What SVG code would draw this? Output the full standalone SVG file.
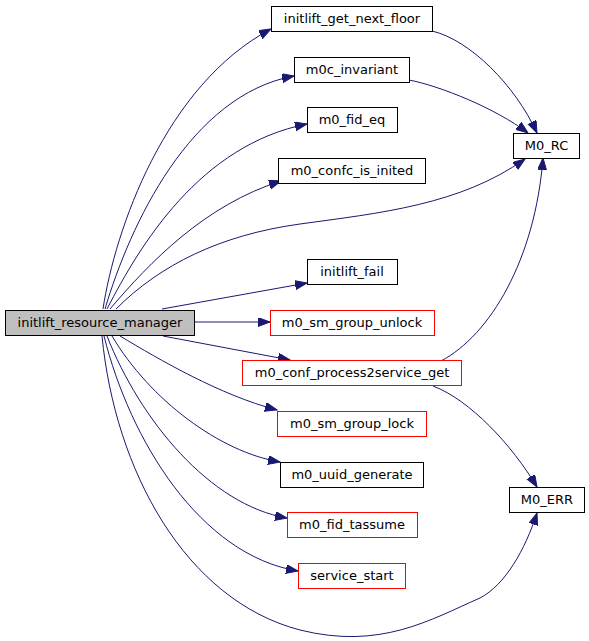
<svg xmlns="http://www.w3.org/2000/svg" width="589" height="641" viewBox="0 0 589 641">
<style>
.n rect{fill:#ffffff;stroke:#000000;stroke-width:1}
.n.r rect{stroke:#ff0000}
.n.main rect{fill:#bfbfbf}
.n text{font-family:"DejaVu Sans",sans-serif;font-size:13px;fill:#000000;text-anchor:middle}
.e path{fill:none;stroke:#191970;stroke-width:1;marker-end:url(#ah)}
</style>
<defs>
<marker id="ah" markerUnits="userSpaceOnUse" markerWidth="13" markerHeight="10" refX="12" refY="4.5" orient="auto">
<path d="M0,0 L12,4.5 L0,9 z" fill="#191970" stroke="#191970" stroke-width="1"/>
</marker>
</defs>
<rect width="589" height="641" fill="#ffffff"/>
<g id="edges" class="e">
<path d="M103,309 C115,230 165,85 271,29"/>
<path d="M105,309 C130,225 190,95 294,76"/>
<path d="M107,309 C140,245 200,145 307,124"/>
<path d="M110,309 C150,262 205,205 281,181"/>
<path d="M116,309 C160,265 220,235 300,224 C380,213 460,205 525,159"/>
<path d="M162,309 L307,283"/>
<path d="M194,322 L270,322"/>
<path d="M163,336 L290,360"/>
<path d="M120,336 C160,360 220,395 277,410"/>
<path d="M112,336 C150,400 220,452 280,462"/>
<path d="M107,336 C140,420 210,505 287,518"/>
<path d="M104,336 C130,440 200,555 298,571"/>
<path d="M102,336 C115,470 185,600 300,630 C380,650 430,620 480,598 C505,585 525,550 537,513"/>
<path d="M432,31 C470,40 515,85 537,133"/>
<path d="M409,80 C440,86 495,108 528,133"/>
<path d="M441,361 C490,335 535,260 543,158"/>
<path d="M433,386 C470,400 512,445 537,487"/>
</g>
<g id="initlift_resource_manager" class="n main"><rect x="5.5" y="310.5" width="189" height="25"/><text x="100" y="326.5">initlift_resource_manager</text></g>
<g id="initlift_get_next_floor" class="n"><rect x="271.5" y="6.5" width="161" height="25"/><text x="352" y="22.5">initlift_get_next_floor</text></g>
<g id="m0c_invariant" class="n"><rect x="294.5" y="57.5" width="115" height="25"/><text x="352" y="73.5">m0c_invariant</text></g>
<g id="m0_fid_eq" class="n"><rect x="307.5" y="107.5" width="90" height="25"/><text x="352" y="123.5">m0_fid_eq</text></g>
<g id="m0_confc_is_inited" class="n"><rect x="278.5" y="158.5" width="147" height="25"/><text x="352" y="174.5">m0_confc_is_inited</text></g>
<g id="M0_RC" class="n"><rect x="513.5" y="133.5" width="66" height="25"/><text x="546.5" y="149.5">M0_RC</text></g>
<g id="initlift_fail" class="n"><rect x="307.5" y="259.5" width="90" height="25"/><text x="352" y="275.5">initlift_fail</text></g>
<g id="m0_sm_group_unlock" class="n r"><rect x="270.5" y="310.5" width="164" height="25"/><text x="352" y="326.5">m0_sm_group_unlock</text></g>
<g id="m0_conf_process2service_get" class="n r"><rect x="242.5" y="360.5" width="219" height="25"/><text x="352" y="376.5">m0_conf_process2service_get</text></g>
<g id="m0_sm_group_lock" class="n r"><rect x="277.5" y="411.5" width="149" height="25"/><text x="352" y="427.5">m0_sm_group_lock</text></g>
<g id="m0_uuid_generate" class="n"><rect x="280.5" y="462.5" width="143" height="25"/><text x="352" y="478.5">m0_uuid_generate</text></g>
<g id="m0_fid_tassume" class="n r"><rect x="287.5" y="512.5" width="130" height="25"/><text x="352" y="528.5">m0_fid_tassume</text></g>
<g id="service_start" class="n r"><rect x="298.5" y="563.5" width="107" height="25"/><text x="352" y="579.5">service_start</text></g>
<g id="M0_ERR" class="n"><rect x="509.5" y="487.5" width="75" height="25"/><text x="547" y="503.5">M0_ERR</text></g>
</svg>
